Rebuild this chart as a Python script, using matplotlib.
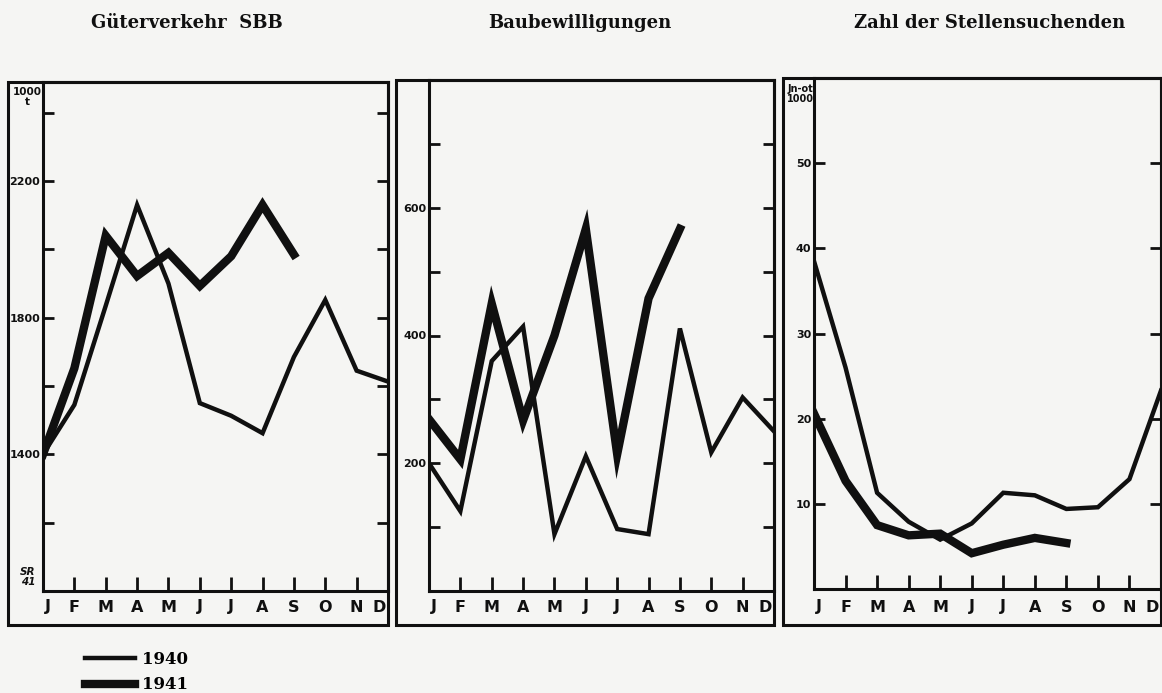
import matplotlib
matplotlib.use("Agg")
import matplotlib.pyplot as plt
from matplotlib.patches import Rectangle
from matplotlib.transforms import blended_transform_factory

# ---------------- data ----------------
months = ['J', 'F', 'M', 'A', 'M', 'J', 'J', 'A', 'S', 'O', 'N', 'D']
years = ['1940', '1941']

gueter_1940 = [1400, 1545, 1835, 2130, 1900, 1550, 1513, 1462, 1685, 1852, 1645, 1613]
gueter_1941 = [1400, 1652, 2040, 1922, 1990, 1893, 1980, 2130, 1985]

bau_1940 = [200, 125, 360, 414, 89, 211, 97, 89, 411, 217, 303, 250]
bau_1941 = [269, 206, 450, 267, 400, 567, 214, 458, 567]

stellen_1940 = [38.5, 26.0, 11.3, 7.9, 5.8, 7.7, 11.3, 11.0, 9.4, 9.6, 12.9, 23.3]
stellen_1941 = [20.6, 12.7, 7.5, 6.3, 6.5, 4.2, 5.2, 6.0, 5.4]

titles = ['Güterverkehr  SBB', 'Baubewilligungen', 'Zahl der Stellensuchenden']

g_ticks = [1200, 1400, 1600, 1800, 2000, 2200, 2400]
g_labels = [1400, 1800, 2200]
b_ticks = [100, 200, 300, 400, 500, 600, 700]
b_labels = [200, 400, 600]
s_ticks = [10, 20, 30, 40, 50]
s_labels = [10, 20, 30, 40, 50]

# ---------------- style ----------------
W, H = 1162, 693
bg = '#f5f5f3'
ink = '#101010'
thin_lw, thick_lw = 3.2, 6.0

fig = plt.figure(figsize=(W / 100, H / 100), dpi=100, facecolor=bg)


def rect(x0, x1, yt, yb):
    return [x0 / W, 1 - yb / H, (x1 - x0) / W, (yb - yt) / H]


panels = [
    dict(frame=(8, 388, 82, 625), ax=(43, 388, 82, 591), ylim=(1000, 2490),
         d40=gueter_1940, d41=gueter_1941, ticks=g_ticks, labels=g_labels),
    dict(frame=(396, 774, 80, 625), ax=(429, 774, 80, 591), ylim=(0, 800),
         d40=bau_1940, d41=bau_1941, ticks=b_ticks, labels=b_labels),
    dict(frame=(783, 1161, 78, 625), ax=(814, 1161, 78, 589), ylim=(0, 60),
         d40=stellen_1940, d41=stellen_1941, ticks=s_ticks, labels=s_labels),
]

title_x = [187, 580, 990]
serif = ['DejaVu Serif']
label_font = dict(family='DejaVu Sans', weight='bold', size=8)
lines = []
for i, p in enumerate(panels):
    fx0, fx1, fyt, fyb = p['frame']
    fig.add_artist(Rectangle((fx0 / W, 1 - fyb / H), (fx1 - fx0) / W, (fyb - fyt) / H,
                             transform=fig.transFigure, fill=False, lw=2.2, ec=ink))
    ax = fig.add_axes(rect(*p['ax']))
    ax.set_facecolor('none')
    for s in ax.spines.values():
        s.set_linewidth(2.2)
        s.set_color(ink)
    ax.set_xlim(0, 11)
    ax.set_ylim(*p['ylim'])
    x40 = list(range(len(p['d40'])))
    x41 = list(range(len(p['d41'])))
    l40, = ax.plot(x40, p['d40'], color=ink, lw=thin_lw, solid_joinstyle='miter',
                   label=years[0])
    l41, = ax.plot(x41, p['d41'], color=ink, lw=thick_lw, solid_joinstyle='miter',
                   label=years[1])
    if i == 0:
        lines = [l40, l41]
    ax.set_xticks(range(1, 11))
    ax.set_xticklabels([])
    ax.tick_params(axis='x', direction='in', length=10, width=2, color=ink)
    xpos = [0.15] + list(range(1, 11)) + [10.72]
    tr = blended_transform_factory(ax.transData, fig.transFigure)
    for xp, m in zip(xpos, months):
        ax.text(xp, 1 - 607 / H, m, transform=tr, ha='center', va='center',
                fontsize=11.5, fontweight='bold', family='DejaVu Sans', color=ink)
    ax.set_yticks(p['ticks'])
    ax.set_yticklabels([str(t) if t in p['labels'] else '' for t in p['ticks']],
                       fontdict=label_font)
    ax.tick_params(axis='y', which='both', left=True, right=True, direction='in',
                   length=8, width=2, color=ink, pad=2, labelcolor=ink)
    fig.text(title_x[i] / W, 1 - 23 / H, titles[i], ha='center', va='center',
             family=serif, fontweight='bold', fontsize=13, color=ink)

fig.text(27 / W, 1 - 97 / H, '1000\nt', ha='center', va='center', fontsize=7.5,
         fontweight='bold', family='DejaVu Sans', color=ink, linespacing=0.95)
fig.text(28 / W, 1 - 577 / H, 'SR\n41', ha='center', va='center', fontsize=7.5,
         fontweight='bold', style='italic', family='DejaVu Sans', color=ink,
         linespacing=0.95)
fig.text(800 / W, 1 - 94 / H, 'Jn-ot\n1000', ha='center', va='center', fontsize=7,
         fontweight='bold', family='DejaVu Sans', color=ink, linespacing=0.95)

fig.legend(handles=lines, labels=years, loc='upper left',
           bbox_to_anchor=(85 / W, 1 - 651 / H), frameon=False,
           prop=dict(family=serif, weight='bold', size=12),
           handlelength=3.0, labelspacing=0.5, handletextpad=0.4,
           borderpad=0, borderaxespad=0)

fig.savefig('out.png', dpi=100, facecolor=bg)
